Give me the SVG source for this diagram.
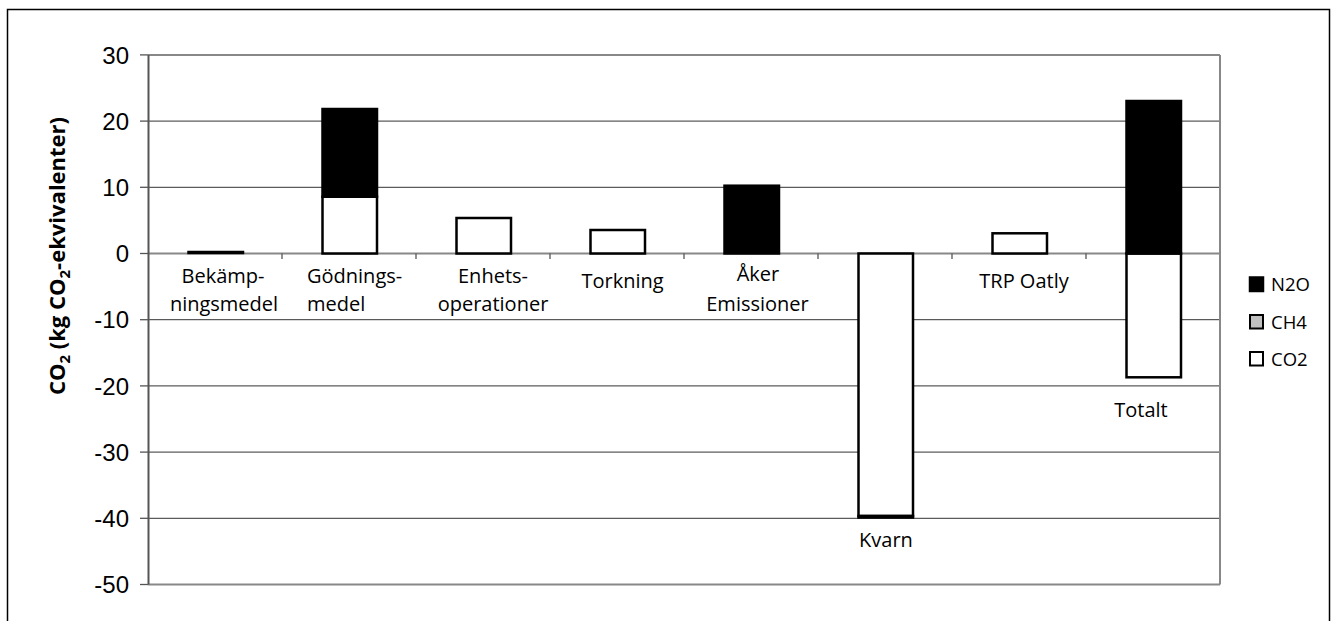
<svg xmlns="http://www.w3.org/2000/svg" width="1336" height="621" viewBox="0 0 1336 621">
<style>
.frame{fill:#fff;stroke:#000;stroke-width:1.5}
.grid{stroke:#333;stroke-width:1}
.edge{stroke:#888;stroke-width:2;fill:none}
.axis{stroke:#555;stroke-width:2}
.tick{stroke:#555;stroke-width:1.3}
.ylab{font-family:"Liberation Sans",Arial,sans-serif;font-size:24px;fill:#000;text-anchor:end}
.cat{font-family:"Open Sans","Noto Sans",sans-serif;font-size:20px;fill:#000;text-anchor:middle}
.catl{font-family:"Open Sans","Noto Sans",sans-serif;font-size:20px;fill:#000}
.title{font-family:"Open Sans","Noto Sans",sans-serif;font-size:22px;font-weight:bold;fill:#000;text-anchor:middle}
.leg{font-family:"Open Sans","Noto Sans",sans-serif;font-size:18.5px;fill:#000}
.n2o{fill:#000;stroke:#000;stroke-width:2.5}
.co2{fill:#fff;stroke:#000;stroke-width:2.5}
.ch4{fill:#c0c0c0;stroke:#000;stroke-width:2}
</style>
<rect class="frame" x="7.5" y="9.5" width="1322" height="640"/>
<g id="plot-area">
  <line class="grid" x1="148" y1="121.1" x2="1220" y2="121.1"/>
  <line class="grid" x1="148" y1="187.3" x2="1220" y2="187.3"/>
  <line class="grid" x1="148" y1="319.7" x2="1220" y2="319.7"/>
  <line class="grid" x1="148" y1="385.9" x2="1220" y2="385.9"/>
  <line class="grid" x1="148" y1="452.1" x2="1220" y2="452.1"/>
  <line class="grid" x1="148" y1="518.3" x2="1220" y2="518.3"/>
  <line class="edge" x1="148" y1="54.9" x2="1220" y2="54.9"/>
  <line class="edge" x1="148" y1="584.5" x2="1220" y2="584.5"/>
  <line class="edge" x1="1220" y1="54.9" x2="1220" y2="584.5"/>
  <line class="edge" x1="148" y1="253.5" x2="1220" y2="253.5"/>
  <line class="axis" x1="148.5" y1="54.9" x2="148.5" y2="584.5"/>
</g>
<g id="y-axis">
  <g class="tick">
    <line x1="140" y1="54.9" x2="148" y2="54.9"/>
    <line x1="140" y1="121.1" x2="148" y2="121.1"/>
    <line x1="140" y1="187.3" x2="148" y2="187.3"/>
    <line x1="140" y1="253.5" x2="148" y2="253.5"/>
    <line x1="140" y1="319.7" x2="148" y2="319.7"/>
    <line x1="140" y1="385.9" x2="148" y2="385.9"/>
    <line x1="140" y1="452.1" x2="148" y2="452.1"/>
    <line x1="140" y1="518.3" x2="148" y2="518.3"/>
    <line x1="140" y1="584.5" x2="148" y2="584.5"/>
  </g>
  <text class="ylab" x="129" y="63.5">30</text>
  <text class="ylab" x="129" y="129.7">20</text>
  <text class="ylab" x="129" y="195.9">10</text>
  <text class="ylab" x="129" y="262.1">0</text>
  <text class="ylab" x="129" y="328.3">-10</text>
  <text class="ylab" x="129" y="394.5">-20</text>
  <text class="ylab" x="129" y="460.7">-30</text>
  <text class="ylab" x="129" y="526.9">-40</text>
  <text class="ylab" x="129" y="593.1">-50</text>
  <text class="title" transform="translate(65,256) rotate(-90)">CO<tspan font-size="15" dy="5">2</tspan><tspan dy="-5"> (kg CO</tspan><tspan font-size="15" dy="5">2</tspan><tspan dy="-5">-ekvivalenter)</tspan></text>
</g>
<g id="x-ticks" class="tick">
  <line x1="282" y1="253.5" x2="282" y2="259"/>
  <line x1="416" y1="253.5" x2="416" y2="259"/>
  <line x1="550" y1="253.5" x2="550" y2="259"/>
  <line x1="684" y1="253.5" x2="684" y2="259"/>
  <line x1="818" y1="253.5" x2="818" y2="259"/>
  <line x1="952" y1="253.5" x2="952" y2="259"/>
  <line x1="1086" y1="253.5" x2="1086" y2="259"/>
</g>
<g id="bekampningsmedel">
  <rect class="n2o" x="188.5" y="252" width="54.5" height="1"/>
  <text class="cat" x="223" y="283">Bekämp-</text>
  <text class="cat" x="224" y="311">ningsmedel</text>
</g>
<g id="godningsmedel">
  <rect class="co2" x="322.5" y="196.7" width="54.5" height="56.8"/>
  <rect class="n2o" x="322.5" y="109" width="54.5" height="87.7"/>
  <text class="catl" x="307" y="283">Gödnings-</text>
  <text class="catl" x="307" y="311">medel</text>
</g>
<g id="enhetsoperationer">
  <rect class="co2" x="456.5" y="218" width="54.5" height="35.5"/>
  <text class="cat" x="493" y="283">Enhets-</text>
  <text class="cat" x="493" y="311">operationer</text>
</g>
<g id="torkning">
  <rect class="co2" x="590.5" y="230" width="54.5" height="23.5"/>
  <text class="cat" x="622.5" y="288">Torkning</text>
</g>
<g id="aker-emissioner">
  <rect class="n2o" x="724.5" y="185.7" width="54.5" height="67.8"/>
  <text class="cat" x="758" y="281">Åker</text>
  <text class="cat" x="757.5" y="311">Emissioner</text>
</g>
<g id="kvarn">
  <rect class="co2" x="858.5" y="253.5" width="54.5" height="262.5"/>
  <rect class="n2o" x="858.5" y="516" width="54.5" height="1.5"/>
  <text class="cat" x="886" y="547">Kvarn</text>
</g>
<g id="trp-oatly">
  <rect class="co2" x="992.5" y="233.3" width="54.5" height="20.2"/>
  <text class="cat" x="1024" y="288">TRP Oatly</text>
</g>
<g id="totalt">
  <rect class="co2" x="1126.5" y="253.5" width="54.5" height="123.8"/>
  <rect class="n2o" x="1126.5" y="101" width="54.5" height="152.5"/>
  <text class="cat" x="1141" y="417">Totalt</text>
</g>
<g id="legend">
  <rect class="n2o" x="1250" y="277.5" width="13" height="13.5"/>
  <text class="leg" x="1271" y="290.5">N2O</text>
  <rect class="ch4" x="1250" y="315" width="13" height="13.5"/>
  <text class="leg" x="1271" y="328.5">CH4</text>
  <rect class="co2" x="1250" y="352" width="13" height="13.5" style="stroke-width:2"/>
  <text class="leg" x="1271" y="365.5">CO2</text>
</g>
</svg>
